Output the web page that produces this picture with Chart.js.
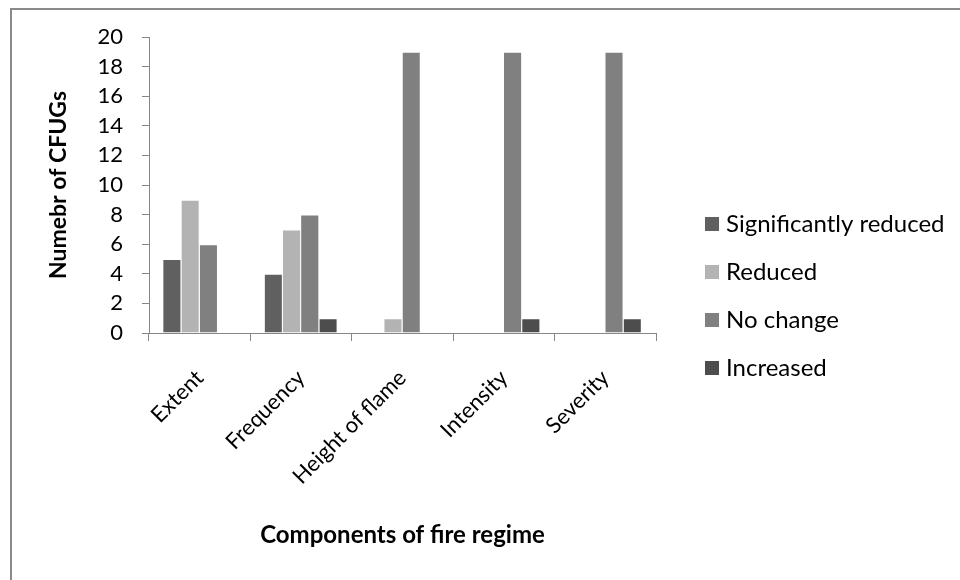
<!DOCTYPE html>
<html>
<head>
<meta charset="utf-8">
<script src="https://cdn.jsdelivr.net/npm/chart.js@4/dist/chart.umd.min.js"></script>
<style>
  html, body { margin: 0; padding: 0; background: #ffffff; }
  #wrap { position: relative; width: 960px; height: 580px; }
</style>
</head>
<body>
<div id="wrap"><canvas id="chart"></canvas></div>
<script>
// Fire regime components and number of CFUGs reporting each change
const categories = ['Extent', 'Frequency', 'Height of flame', 'Intensity', 'Severity'];
const significantlyReduced = [5, 4, 0, 0, 0];
const reduced = [9, 7, 1, 0, 0];
const noChange = [6, 8, 19, 19, 19];
const increased = [0, 1, 0, 1, 1];
const seriesNames = ['Significantly reduced', 'Reduced', 'No change', 'Increased'];
const yTicks = [0, 2, 4, 6, 8, 10, 12, 14, 16, 18, 20];

const FONT = 'Lato, "Open Sans", sans-serif';
const AXIS_GREY = '#868686';

// Outer frame lines of the chart object
const framePlugin = {
  id: 'frame',
  beforeDraw(chart) {
    const ctx = chart.ctx;
    ctx.save();
    ctx.strokeStyle = '#8a8a8a';
    ctx.lineWidth = 2;
    ctx.beginPath();
    ctx.moveTo(11, 580);
    ctx.lineTo(11, 9);
    ctx.lineTo(960, 9);
    ctx.stroke();
    ctx.restore();
  }
};

// Legend column on the right, built from the datasets
const sideLegend = {
  id: 'sideLegend',
  afterDraw(chart) {
    const ctx = chart.ctx;
    ctx.save();
    ctx.font = '24px ' + FONT;
    ctx.textBaseline = 'middle';
    ctx.textAlign = 'left';
    chart.data.datasets.forEach((ds, i) => {
      const y = 224 + i * 48;
      ctx.fillStyle = ds.backgroundColor;
      ctx.fillRect(705, y - 7, 14, 14);
      ctx.fillStyle = '#000000';
      ctx.fillText(ds.label, 726, y);
    });
    ctx.restore();
  }
};

const colors = ['#606060', '#b3b3b3', '#808080', '#4d4d4d'];
const values = [significantlyReduced, reduced, noChange, increased];

new Chart(document.getElementById('chart'), {
  type: 'bar',
  data: {
    labels: categories,
    datasets: values.map((v, i) => ({
      label: seriesNames[i],
      data: v,
      backgroundColor: colors[i],
      borderColor: 'rgba(255,255,255,0.45)',
      borderWidth: { top: 1, right: 1, left: 0, bottom: 0 },
      borderSkipped: 'start',
      categoryPercentage: 0.72,
      barPercentage: 1.0
    }))
  },
  options: {
    responsive: true,
    maintainAspectRatio: false,
    animation: false,
    devicePixelRatio: 1,
    layout: { padding: { left: 45, right: 304, top: 37, bottom: 30 } },
    plugins: {
      legend: { display: false },
      tooltip: { enabled: false }
    },
    scales: {
      x: {
        type: 'category',
        offset: true,
        grid: {
          display: true,
          offset: true,
          drawOnChartArea: false,
          drawTicks: true,
          tickLength: 8,
          color: AXIS_GREY,
          lineWidth: 1
        },
        border: { display: true, color: AXIS_GREY, width: 1 },
        ticks: {
          autoSkip: false,
          maxRotation: 45,
          minRotation: 45,
          padding: 24,
          color: '#000000',
          font: { family: FONT, size: 22 }
        },
        title: {
          display: true,
          text: 'Components of fire regime',
          color: '#000000',
          padding: { top: 0, bottom: 0 },
          font: { family: FONT, size: 24, weight: 'bold' }
        },
        afterFit(scale) { scale.height = 217; }
      },
      y: {
        min: 0,
        max: 20,
        afterBuildTicks(scale) { scale.ticks = yTicks.map(v => ({ value: v })); },
        grid: {
          display: true,
          drawOnChartArea: false,
          drawTicks: true,
          tickLength: 7,
          color: AXIS_GREY,
          lineWidth: 1
        },
        border: { display: true, color: AXIS_GREY, width: 1 },
        ticks: {
          padding: 19,
          color: '#000000',
          font: { family: FONT, size: 22 }
        },
        title: {
          display: true,
          text: 'Numebr of CFUGs',
          color: '#000000',
          padding: { top: 0, bottom: 0 },
          font: { family: FONT, size: 23, weight: 'bold' }
        },
        afterFit(scale) { scale.width = 104; }
      }
    }
  },
  plugins: [framePlugin, sideLegend]
});
</script>
</body>
</html>
